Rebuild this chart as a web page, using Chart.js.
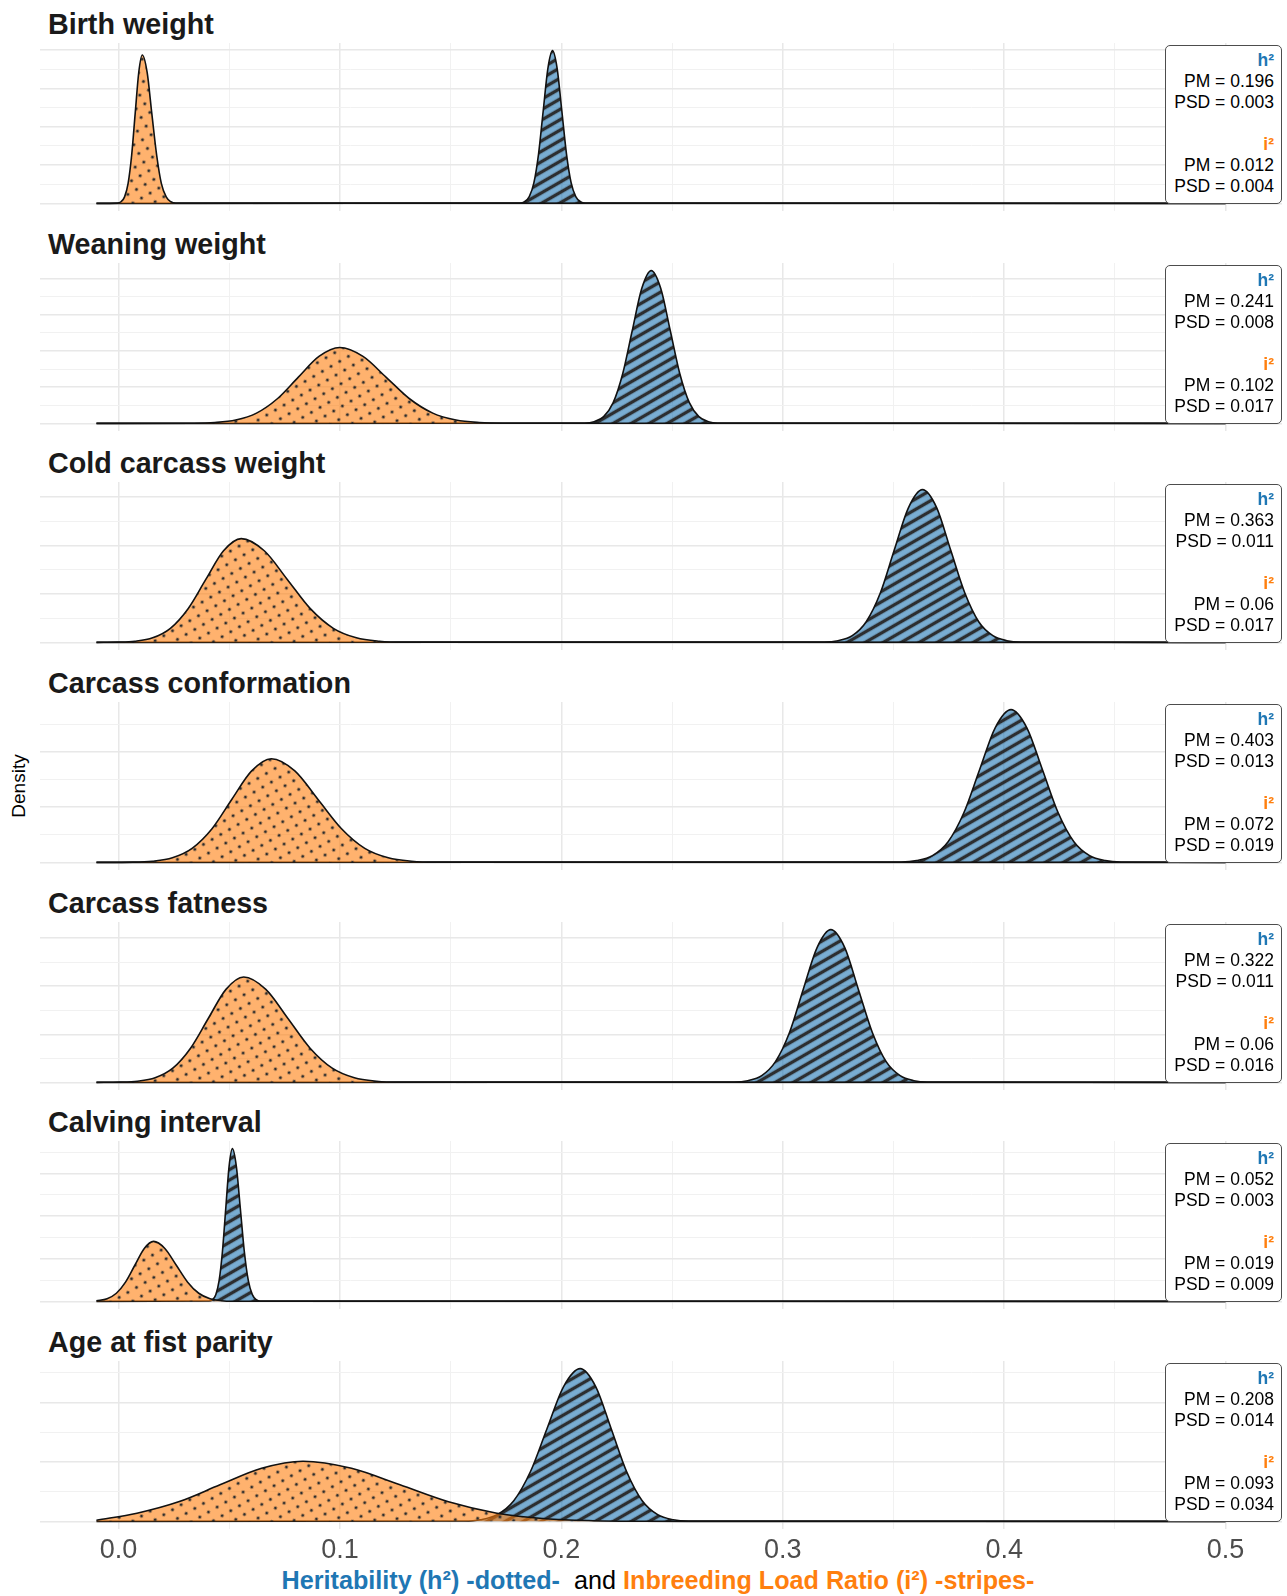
<!DOCTYPE html>
<html>
<head>
<meta charset="utf-8">
<script src="https://cdn.jsdelivr.net/npm/chart.js@4.4.1/dist/chart.umd.min.js"></script>
<style>
  html, body { margin: 0; padding: 0; background: #ffffff; }
  #wrap { position: relative; width: 1287px; height: 1596px; overflow: hidden; background: #ffffff;
          font-family: "Liberation Sans", Arial, Helvetica, sans-serif; }
  canvas { position: absolute; left: 0; }
  .ptitle { position: absolute; left: 48px; font-weight: bold; font-size: 28.7px; line-height: 28px;
            color: #1a1a1a; white-space: nowrap; }
  .stats { position: absolute; left: 1165px; width: 117px; height: 159px; box-sizing: border-box;
           border: 1px solid #4d4d4d; border-radius: 5px; background: #ffffff;
           padding: 4px 7px 0 0; text-align: right; font-size: 17.5px; line-height: 21px; color: #000; z-index: 5; }
  .stats b.h { color: #1F77B4; }
  .stats b.i { color: #FF7F0E; }
  #ylab { position: absolute; left: 18px; top: 786px; font-size: 19px; line-height: 19px; color: #000;
          transform: translate(-50%, -50%) rotate(-90deg); white-space: nowrap; }
  #xlab { position: absolute; left: 0; width: 1316px; top: 1568px; text-align: center; font-size: 25.2px;
          line-height: 25px; white-space: pre; }
  #xlab .h { color: #1F77B4; font-weight: bold; }
  #xlab .i { color: #FF7F0E; font-weight: bold; }
  #xlab .a { color: #000; }
</style>
</head>
<body>
<div id="wrap">
  <div id="ylab">Density</div>
  <div id="xlab"><span class="h">Heritability (h²) -dotted-</span><span class="a">  and </span><span class="i">Inbreeding Load Ratio (i²) -stripes-</span></div>
</div>
<script>
// ---- trait names and posterior summaries ----
const traitNames = ['Birth weight', 'Weaning weight', 'Cold carcass weight', 'Carcass conformation',
                    'Carcass fatness', 'Calving interval', 'Age at fist parity'];
const h2PM  = ['0.196', '0.241', '0.363', '0.403', '0.322', '0.052', '0.208'];
const h2PSD = ['0.003', '0.008', '0.011', '0.013', '0.011', '0.003', '0.014'];
const i2PM  = ['0.012', '0.102', '0.06', '0.072', '0.06', '0.019', '0.093'];
const i2PSD = ['0.004', '0.017', '0.017', '0.019', '0.016', '0.009', '0.034'];

// density grid step for each panel
const densityStep = [20, 5, 5, 5, 5, 20, 5];

// x axis
const xGrid = [0, 0.05, 0.1, 0.15, 0.2, 0.25, 0.3, 0.35, 0.4, 0.45, 0.5];
const xMajor = [0, 0.1, 0.2, 0.3, 0.4, 0.5];
const xMajorLabels = ['0.0', '0.1', '0.2', '0.3', '0.4', '0.5'];

// ---- posterior densities (x = value, y = density) ----
// Birth weight
const bwI2X = [-0.01, -0.0005, 0.0011, 0.0027, 0.0043, 0.0059, 0.0075, 0.0091, 0.0107, 0.0129, 0.0150, 0.0172, 0.0193, 0.0215, 0.0236, 0.0258, 0.5];
const bwI2Y = [0, 0.3, 1.7, 6.8, 20.9, 50.2, 93.8, 136.5, 154.7, 136.5, 93.8, 50.2, 20.9, 6.8, 1.7, 0.3, 0];
const bwH2X = [-0.01, 0.1813, 0.1834, 0.1855, 0.1876, 0.1897, 0.1918, 0.1939, 0.1960, 0.1981, 0.2002, 0.2023, 0.2044, 0.2065, 0.2086, 0.2107, 0.5];
const bwH2Y = [0, 0.35, 1.8, 7.0, 21.6, 51.7, 96.6, 140.6, 159.3, 140.6, 96.6, 51.7, 21.6, 7.0, 1.8, 0.35, 0];
// Weaning weight
const wwI2X = [-0.01, 0.0341, 0.0435, 0.0529, 0.0623, 0.0717, 0.0811, 0.0905, 0.0999, 0.1104, 0.1209, 0.1314, 0.1419, 0.1524, 0.1629, 0.1734, 0.5];
const wwI2Y = [0, 0.05, 0.23, 0.92, 2.83, 6.80, 12.71, 18.49, 20.95, 18.49, 12.71, 6.80, 2.83, 0.92, 0.23, 0.05, 0];
const wwH2X = [-0.01, 0.2105, 0.2148, 0.2191, 0.2234, 0.2277, 0.2320, 0.2363, 0.2406, 0.2449, 0.2492, 0.2535, 0.2578, 0.2621, 0.2664, 0.2707, 0.5];
const wwH2Y = [0, 0.09, 0.47, 1.85, 5.71, 13.70, 25.59, 37.24, 42.2, 37.24, 25.59, 13.70, 5.71, 1.85, 0.47, 0.09, 0];
// Cold carcass weight
const cwI2X = [-0.01, -0.0006, 0.0074, 0.0154, 0.0234, 0.0314, 0.0394, 0.0474, 0.0554, 0.0658, 0.0762, 0.0866, 0.0970, 0.1074, 0.1178, 0.1282, 0.5];
const cwI2Y = [0, 0.05, 0.24, 0.94, 2.90, 6.95, 12.98, 18.89, 21.4, 18.89, 12.98, 6.95, 2.90, 0.94, 0.24, 0.05, 0];
const cwH2X = [-0.01, 0.3187, 0.3250, 0.3314, 0.3377, 0.3441, 0.3504, 0.3568, 0.3631, 0.3695, 0.3758, 0.3822, 0.3885, 0.3949, 0.4012, 0.4076, 0.5];
const cwH2Y = [0, 0.07, 0.35, 1.38, 4.26, 10.23, 19.10, 27.80, 31.5, 27.80, 19.10, 10.23, 4.26, 1.38, 0.35, 0.07, 0];
// Carcass conformation
const ccI2X = [-0.01, 0.0064, 0.0153, 0.0243, 0.0332, 0.0422, 0.0511, 0.0601, 0.0690, 0.0796, 0.0901, 0.1007, 0.1112, 0.1218, 0.1323, 0.1429, 0.5];
const ccI2Y = [0, 0.04, 0.21, 0.83, 2.54, 6.10, 11.40, 16.59, 18.8, 16.59, 11.40, 6.10, 2.54, 0.83, 0.21, 0.04, 0];
const ccH2X = [-0.01, 0.3534, 0.3605, 0.3676, 0.3747, 0.3818, 0.3889, 0.3960, 0.4031, 0.4102, 0.4173, 0.4244, 0.4315, 0.4386, 0.4457, 0.4528, 0.5];
const ccH2Y = [0, 0.06, 0.31, 1.22, 3.75, 8.99, 16.80, 24.45, 27.7, 24.45, 16.80, 8.99, 3.75, 1.22, 0.31, 0.06, 0];
// Carcass fatness
const cfI2X = [-0.01, 0.0005, 0.0085, 0.0165, 0.0245, 0.0325, 0.0405, 0.0485, 0.0565, 0.0665, 0.0765, 0.0865, 0.0965, 0.1065, 0.1165, 0.1265, 0.5];
const cfI2Y = [0, 0.05, 0.24, 0.96, 2.96, 7.11, 13.28, 19.33, 21.9, 19.33, 13.28, 7.11, 2.96, 0.96, 0.24, 0.05, 0];
const cfH2X = [-0.01, 0.2780, 0.2842, 0.2905, 0.2967, 0.3030, 0.3092, 0.3155, 0.3217, 0.3280, 0.3342, 0.3405, 0.3467, 0.3530, 0.3592, 0.3655, 0.5];
const cfH2Y = [0, 0.07, 0.35, 1.39, 4.30, 10.31, 19.26, 28.02, 31.75, 28.02, 19.26, 10.31, 4.30, 1.39, 0.35, 0.07, 0];
// Calving interval
const ciI2X = [-0.01, -0.0052, -0.0010, 0.0032, 0.0074, 0.0116, 0.0158, 0.0209, 0.0260, 0.0311, 0.0362, 0.0413, 0.0464, 0.0515, 0.5];
const ciI2Y = [0.5, 2.47, 7.62, 18.28, 34.15, 49.68, 56.3, 49.68, 34.15, 18.28, 7.62, 2.47, 0.62, 0.12, 0];
const ciH2X = [-0.01, 0.0409, 0.0424, 0.0439, 0.0454, 0.0469, 0.0484, 0.0499, 0.0514, 0.0532, 0.0550, 0.0568, 0.0586, 0.0604, 0.0622, 0.0640, 0.5];
const ciH2Y = [0, 0.32, 1.59, 6.30, 19.40, 46.56, 86.97, 126.55, 143.4, 126.55, 86.97, 46.56, 19.40, 6.30, 1.59, 0.32, 0];
// Age at first parity
const afI2X = [-0.01, 0.0083, 0.0271, 0.0458, 0.0646, 0.0833, 0.1052, 0.1271, 0.1490, 0.1709, 0.1928, 0.2147, 0.2366, 0.2585, 0.5];
const afI2Y = [0.2, 1.37, 3.28, 6.13, 8.91, 10.1, 8.91, 6.13, 3.28, 1.37, 0.44, 0.11, 0.02, 0, 0];
const afH2X = [-0.01, 0.1560, 0.1635, 0.1710, 0.1785, 0.1860, 0.1935, 0.2010, 0.2085, 0.2155, 0.2225, 0.2295, 0.2365, 0.2435, 0.2505, 0.2575, 0.5];
const afH2Y = [0, 0.06, 0.28, 1.13, 3.47, 8.33, 15.56, 22.64, 25.65, 22.64, 15.56, 8.33, 3.47, 1.13, 0.28, 0.06, 0];

const i2Curves = [[bwI2X, bwI2Y], [wwI2X, wwI2Y], [cwI2X, cwI2Y], [ccI2X, ccI2Y], [cfI2X, cfI2Y], [ciI2X, ciI2Y], [afI2X, afI2Y]];
const h2Curves = [[bwH2X, bwH2Y], [wwH2X, wwH2Y], [cwH2X, cwH2Y], [ccH2X, ccH2Y], [cfH2X, cfH2Y], [ciH2X, ciH2Y], [afH2X, afH2Y]];

// ---- styling ----
const FONT = '"Liberation Sans", Arial, Helvetica, sans-serif';
const ORANGE_FILL = 'rgba(255,127,14,0.6)';
const BLUE_FILL = 'rgba(31,119,180,0.6)';
const X_MIN = -0.0355, X_MAX = 0.5255;
const PANEL_H = 168, PANEL_PITCH = 219.67, FIRST_TOP = 43;
const GRID_MAJOR = 'rgb(232,232,232)', GRID_MINOR = 'rgb(241,241,241)';

// tile patterns: dots for the orange area, stripes for the blue area (rotated 30 degrees)
function makePattern(base, kind) {
  const s = kind === 'dots' ? 10 : 9;
  const tile = document.createElement('canvas');
  tile.width = s; tile.height = s;
  const t = tile.getContext('2d');
  t.fillStyle = base;
  t.fillRect(0, 0, s, s);
  t.fillStyle = 'rgba(40,40,40,0.95)';
  if (kind === 'dots') {
    t.fillStyle = 'rgba(45,45,45,1)';
    t.beginPath(); t.arc(s / 2, s / 2, 1.55, 0, Math.PI * 2); t.fill();
  } else {
    t.fillRect(0, (s - 3.4) / 2, s, 3.4);
  }
  const p = document.createElement('canvas').getContext('2d').createPattern(tile, 'repeat');
  p.setTransform(new DOMMatrix().rotateSelf(-30));
  return p;
}
const dotPattern = makePattern(ORANGE_FILL, 'dots');
const stripePattern = makePattern(BLUE_FILL, 'stripes');

function near(a, b) { return Math.abs(a - b) < 1e-9; }
function toPoints(xs, ys) { return xs.map((x, i) => ({ x: x, y: ys[i] })); }

const wrap = document.getElementById('wrap');

traitNames.forEach((name, k) => {
  const top = Math.round(FIRST_TOP + PANEL_PITCH * k);
  const last = k === traitNames.length - 1;
  const axisH = last ? 48 : 0;

  // panel title
  const tt = document.createElement('div');
  tt.className = 'ptitle';
  tt.style.top = (top - 33.5) + 'px';
  tt.textContent = name;
  wrap.appendChild(tt);

  // summary box
  const box = document.createElement('div');
  box.className = 'stats';
  box.style.top = (top + 2) + 'px';
  box.innerHTML = '<b class="h">h²</b><br>PM = ' + h2PM[k] + '<br>PSD = ' + h2PSD[k] +
                  '<br>&nbsp;<br><b class="i">i²</b><br>PM = ' + i2PM[k] + '<br>PSD = ' + i2PSD[k];
  wrap.appendChild(box);

  // chart canvas
  const cv = document.createElement('canvas');
  cv.width = 1287; cv.height = PANEL_H + axisH;
  cv.style.top = top + 'px';
  cv.style.width = '1287px'; cv.style.height = (PANEL_H + axisH) + 'px';
  wrap.appendChild(cv);

  const iPts = toPoints(i2Curves[k][0], i2Curves[k][1]);
  const hPts = toPoints(h2Curves[k][0], h2Curves[k][1]);
  const yMax = Math.max(...i2Curves[k][1], ...h2Curves[k][1]);
  const step = densityStep[k];

  new Chart(cv, {
    type: 'line',
    data: {
      datasets: [
        { label: 'i²', data: iPts, borderColor: '#111111', borderWidth: 1.6, backgroundColor: dotPattern,
          fill: 'origin', pointRadius: 0, cubicInterpolationMode: 'monotone' },
        { label: 'h²', data: hPts, borderColor: '#111111', borderWidth: 1.6, backgroundColor: stripePattern,
          fill: 'origin', pointRadius: 0, cubicInterpolationMode: 'monotone' }
      ]
    },
    options: {
      responsive: false, animation: false, devicePixelRatio: 1,
      layout: { padding: { left: 40, right: 5, top: 0, bottom: 0 } },
      plugins: { legend: { display: false }, tooltip: { enabled: false }, title: { display: false } },
      scales: {
        x: {
          type: 'linear', min: X_MIN, max: X_MAX,
          afterBuildTicks: s => { s.ticks = xGrid.map(v => ({ value: v })); },
          afterFit: s => { s.height = axisH; },
          border: { display: false },
          grid: {
            drawTicks: false,
            color: c => xMajor.some(m => near(m, c.tick.value)) ? GRID_MAJOR : GRID_MINOR,
            lineWidth: c => xMajor.some(m => near(m, c.tick.value)) ? 1.5 : 1
          },
          ticks: {
            display: last, autoSkip: false, maxRotation: 0, padding: 5, color: '#4D4D4D',
            font: { family: FONT, size: 27 },
            callback: v => { const i = xMajor.findIndex(m => near(m, v)); return i >= 0 ? xMajorLabels[i] : ''; }
          }
        },
        y: {
          type: 'linear', min: -0.05 * yMax, max: 1.05 * yMax,
          afterBuildTicks: s => {
            const t = [];
            for (let v = 0; v <= s.max + 1e-9; v += step) t.push({ value: v });
            s.ticks = t;
          },
          afterFit: s => { s.width = 0; },
          border: { display: false },
          grid: {
            drawTicks: false,
            color: c => (Math.round(c.tick.value / step) % 2 === 0) ? GRID_MAJOR : GRID_MINOR,
            lineWidth: c => (Math.round(c.tick.value / step) % 2 === 0) ? 1.5 : 1
          },
          ticks: { display: false }
        }
      }
    }
  });
});
</script>
</body>
</html>
